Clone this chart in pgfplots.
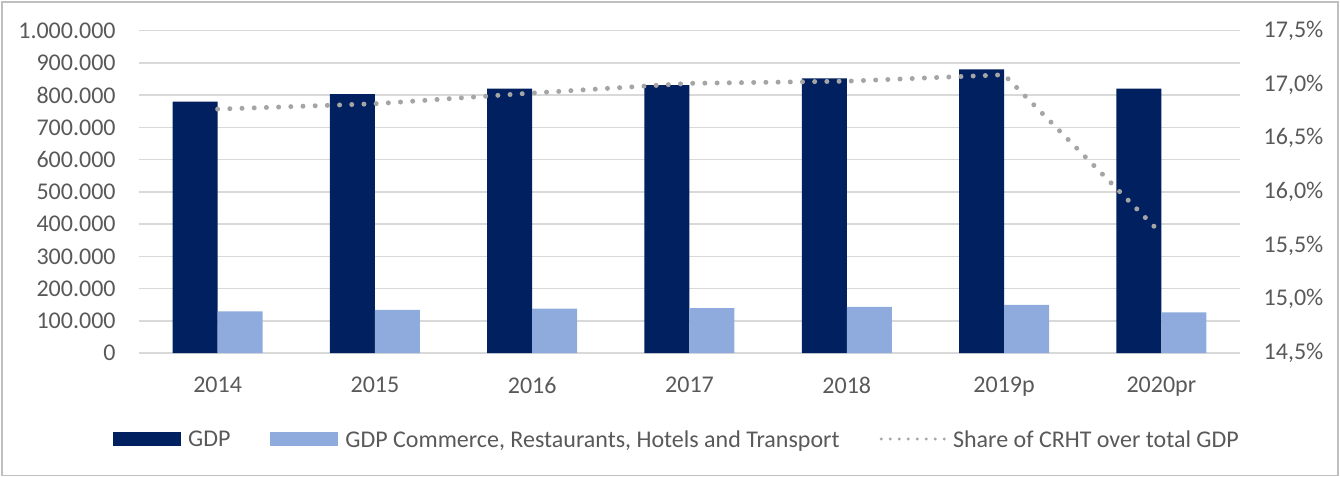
\documentclass[border=0pt]{standalone}
\usepackage{fontspec}
\setmainfont{Carlito}
\usepackage{pgfplots}
\pgfplotsset{compat=1.18}
\definecolor{navy}{HTML}{002060}
\definecolor{lightblue}{HTML}{8FAADC}
\definecolor{gridgray}{HTML}{D9D9D9}
\definecolor{txtgray}{HTML}{595959}
\definecolor{dotgray}{HTML}{A5A5A5}
\definecolor{framegray}{HTML}{BFBFBF}
\newcommand{\lbl}{\fontsize{12}{14.4}\selectfont}
\begin{document}
\begin{tikzpicture}
\useasboundingbox (0,0) rectangle (670pt,238.5pt);
\draw[framegray, line width=0.75pt] (1pt,0.65pt) rectangle (669pt,237.5pt);
\begin{axis}[
  at={(69.5pt,62pt)}, anchor=south west,
  scale only axis, width=550.5pt, height=161.15pt,
  xmin=-0.5, xmax=6.5, ymin=0, ymax=1000000,
  ybar=0pt, bar width=22.5pt,
  xtick={0,...,6}, xticklabels={2014,2015,2016,2017,2018,2019p,2020pr},
  ytick={0,100000,200000,300000,400000,500000,600000,700000,800000,900000,1000000},
  axis line style={draw=none},
  major tick length=0pt,
  ymajorgrids, grid style={gridgray, line width=0.75pt},
  scaled y ticks=false,
  tick label style={font=\lbl, text=txtgray},
  yticklabel style={inner sep=0pt, xshift=-11.5pt},
  xticklabel style={inner sep=0pt, yshift=-12pt},
  /pgf/number format/fixed,
  /pgf/number format/1000 sep={.},
  /pgf/number format/assume math mode=true,
  legend columns=3,
  legend style={at={(0.4877,-0.2668)}, anchor=center, draw=none, fill=none,
    font=\lbl, text=txtgray,
    cells={anchor=west},
    nodes={inner sep=0pt, text depth=0pt},
    /tikz/every odd column/.append style={column sep=3.5pt},
    /tikz/every even column/.append style={column sep=20pt}},
]
\addplot[fill=navy, draw=none,
  legend image code/.code={\fill[navy] (0pt,-3.4pt) rectangle (34pt,3.4pt);}]
  coordinates {(0,780000) (1,803000) (2,820000) (3,831000) (4,852000) (5,880000) (6,820000)};
\addlegendentry{GDP}
\addplot[fill=lightblue, draw=none,
  legend image code/.code={\fill[lightblue] (0pt,-3.4pt) rectangle (34pt,3.4pt);}]
  coordinates {(0,129500) (1,133500) (2,137500) (3,139500) (4,143500) (5,149500) (6,126000)};
\addlegendentry{GDP Commerce, Restaurants, Hotels and Transport}
\addlegendimage{legend image code/.code={\draw[dotgray, line width=1.65pt, line cap=round, dash pattern=on 0pt off 4.5pt] (0pt,0pt) -- (31.6pt,0pt);}}
\addlegendentry{Share of CRHT over total GDP}
\end{axis}
\begin{axis}[
  at={(69.5pt,62pt)}, anchor=south west,
  scale only axis, width=550.5pt, height=161.15pt,
  xmin=-0.5, xmax=6.5, ymin=14.5, ymax=17.5,
  axis y line*=right, axis x line=none,
  axis line style={draw=none}, major tick length=0pt,
  ytick={14.5,15,15.5,16,16.5,17,17.5},
  yticklabel={\pgfmathprintnumber{\tick}\%},
  yticklabel style={inner sep=0pt, xshift=11.65pt, font=\lbl, text=txtgray},
  /pgf/number format/fixed,
  /pgf/number format/fixed zerofill,
  /pgf/number format/precision=1,
  /pgf/number format/use comma,
  /pgf/number format/assume math mode=true,
]
\addplot[dotgray, line width=2.5pt, line cap=round, dash pattern=on 0pt off 6.1pt]
  coordinates {(0,16.77) (1,16.82) (2,16.92) (3,17.01) (4,17.03) (5,17.09) (6,15.61)};
\end{axis}
\end{tikzpicture}
\end{document}
